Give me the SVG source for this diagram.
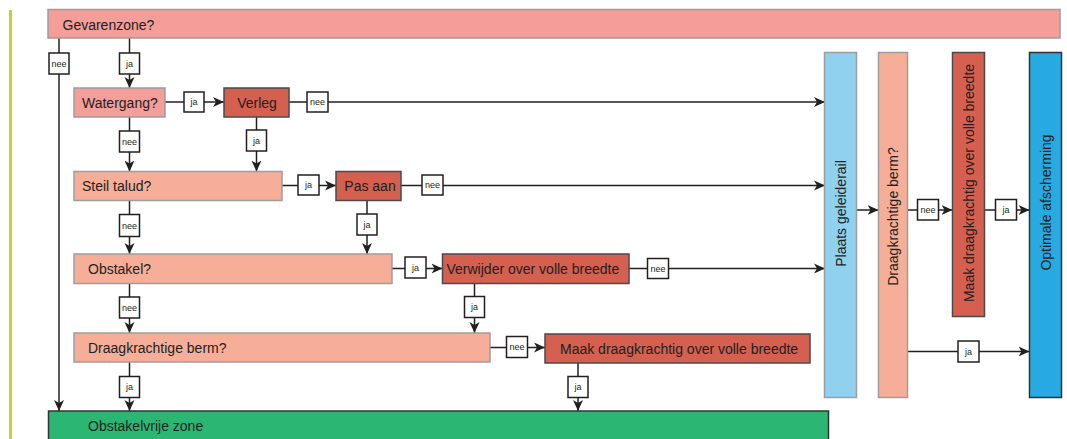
<svg xmlns="http://www.w3.org/2000/svg" width="1067" height="439" viewBox="0 0 1067 439">
<defs>
<marker id="arr" markerUnits="userSpaceOnUse" markerWidth="13" markerHeight="12" refX="11" refY="6" orient="auto">
<path d="M0,1 L11,6 L0,11 L3,6 z" fill="#231f20"/>
</marker>
<style>
.t{font-family:"Liberation Sans",Arial,sans-serif;font-size:14px;fill:#231f20}
.l{font-family:"Liberation Sans",Arial,sans-serif;font-size:9px;fill:#231f20;text-anchor:middle}
.lb{fill:#fff;stroke:#231f20;stroke-width:1.5}
.c{fill:none;stroke:#231f20;stroke-width:1.5}
.ca{fill:none;stroke:#231f20;stroke-width:1.5;marker-end:url(#arr)}
.pink{fill:#f49d99;stroke:#9d9d9d;stroke-width:1.5}
.salm{fill:#f6ae98;stroke:#9d9d9d;stroke-width:1.5}
.red{fill:#d5604f;stroke:#4a4a4a;stroke-width:1.5}
.blue{fill:#8fd1ef;stroke:#9d9d9d;stroke-width:1.5}
.dblue{fill:#27a9e1;stroke:#333;stroke-width:1.5}
.green{fill:#2bb673;stroke:#333;stroke-width:1.5}
.m{text-anchor:middle}
</style>
</defs>
<rect x="9" y="10" width="3" height="429" fill="#c3d32f"/>

<g id="connectors">
<line class="ca" x1="59" y1="38" x2="59" y2="411"/>
<line class="ca" x1="129.5" y1="38" x2="129.5" y2="88"/>
<line class="ca" x1="165" y1="102" x2="224" y2="102"/>
<line class="ca" x1="289" y1="102" x2="825" y2="102"/>
<line class="ca" x1="129.5" y1="117" x2="129.5" y2="171.5"/>
<line class="ca" x1="256.5" y1="117" x2="256.5" y2="171.5"/>
<line class="ca" x1="282" y1="185.5" x2="336" y2="185.5"/>
<line class="ca" x1="401" y1="185.5" x2="825" y2="185.5"/>
<line class="ca" x1="129.5" y1="200.5" x2="129.5" y2="254"/>
<line class="ca" x1="367" y1="200.5" x2="367" y2="254"/>
<line class="ca" x1="392" y1="268.5" x2="442.5" y2="268.5"/>
<line class="ca" x1="629" y1="268.5" x2="825" y2="268.5"/>
<line class="ca" x1="129.5" y1="283.5" x2="129.5" y2="333"/>
<line class="ca" x1="474.5" y1="283.5" x2="474.5" y2="333"/>
<line class="ca" x1="490" y1="347.5" x2="545" y2="347.5"/>
<line class="ca" x1="129.5" y1="362" x2="129.5" y2="411"/>
<line class="ca" x1="578" y1="363" x2="578" y2="411"/>
<line class="ca" x1="856.5" y1="210" x2="878.5" y2="210"/>
<line class="ca" x1="907.5" y1="210" x2="952.5" y2="210"/>
<line class="ca" x1="984.5" y1="210" x2="1029.5" y2="210"/>
<line class="ca" x1="907.5" y1="351.5" x2="1029.5" y2="351.5"/>

<rect class="lb" x="49" y="53" width="20" height="21"/><text class="l" x="59" y="66.5">nee</text>
<rect class="lb" x="119.5" y="53" width="20" height="21"/><text class="l" x="129.5" y="66.5">ja</text>
<rect class="lb" x="184" y="92" width="20" height="20"/><text class="l" x="194" y="105">ja</text>
<rect class="lb" x="307" y="92" width="21" height="20"/><text class="l" x="317.5" y="105">nee</text>
<rect class="lb" x="119.5" y="131" width="20" height="21"/><text class="l" x="129.5" y="144.5">nee</text>
<rect class="lb" x="246.5" y="130" width="20" height="21"/><text class="l" x="256.5" y="143.5">ja</text>
<rect class="lb" x="298" y="175" width="21" height="20"/><text class="l" x="308.5" y="188">ja</text>
<rect class="lb" x="422" y="175" width="21" height="20"/><text class="l" x="432.5" y="188">nee</text>
<rect class="lb" x="119.5" y="214.5" width="20" height="22"/><text class="l" x="129.5" y="228.5">nee</text>
<rect class="lb" x="357" y="214" width="20" height="21"/><text class="l" x="367" y="227.5">ja</text>
<rect class="lb" x="405" y="257" width="21" height="21"/><text class="l" x="415.5" y="270.5">ja</text>
<rect class="lb" x="647.5" y="258.5" width="21" height="20"/><text class="l" x="658" y="271.5">nee</text>
<rect class="lb" x="119.5" y="297" width="20" height="21"/><text class="l" x="129.5" y="310.5">nee</text>
<rect class="lb" x="464.5" y="296.5" width="20" height="21"/><text class="l" x="474.5" y="310">ja</text>
<rect class="lb" x="506.5" y="336.5" width="21" height="21"/><text class="l" x="517" y="350">nee</text>
<rect class="lb" x="119.5" y="376.5" width="20" height="21"/><text class="l" x="129.5" y="390">ja</text>
<rect class="lb" x="568" y="376.5" width="20" height="21"/><text class="l" x="578" y="390">ja</text>
<rect class="lb" x="917.5" y="199.5" width="21" height="20.5"/><text class="l" x="928" y="213">nee</text>
<rect class="lb" x="995.5" y="199.5" width="21" height="20.5"/><text class="l" x="1006" y="213">ja</text>
<rect class="lb" x="958" y="341" width="21" height="21"/><text class="l" x="968.5" y="354.5">ja</text>
</g>

<g id="gevarenzone"><rect class="pink" x="48" y="9.5" width="1012" height="28.5"/><text class="t" x="62.5" y="30">Gevarenzone?</text></g>
<g id="watergang"><rect class="pink" x="74" y="88" width="91" height="29"/><text class="t" x="82" y="108">Watergang?</text></g>
<g id="verleg"><rect class="red" x="224" y="88" width="65" height="29"/><text class="t m" x="257" y="108">Verleg</text></g>
<g id="steil-talud"><rect class="salm" x="74" y="171.5" width="208" height="29"/><text class="t" x="82" y="191">Steil talud?</text></g>
<g id="pas-aan"><rect class="red" x="336" y="171.5" width="65" height="29"/><text class="t m" x="370" y="191">Pas aan</text></g>
<g id="obstakel"><rect class="salm" x="74" y="254" width="318" height="29.5"/><text class="t" x="88" y="273.5">Obstakel?</text></g>
<g id="verwijder"><rect class="red" x="442.5" y="254" width="186.5" height="29.5"/><text class="t" x="446.5" y="273.5">Verwijder over volle breedte</text></g>
<g id="draagkrachtige-berm"><rect class="salm" x="74" y="333" width="416" height="29"/><text class="t" x="88" y="352.5">Draagkrachtige berm?</text></g>
<g id="maak-draagkrachtig"><rect class="red" x="545" y="334" width="265" height="29"/><text class="t" x="560" y="353.5">Maak draagkrachtig over volle breedte</text></g>
<g id="obstakelvrije-zone"><rect class="green" x="48.5" y="411" width="780" height="40"/><text class="t" x="88" y="431">Obstakelvrije zone</text></g>
<g id="plaats-geleiderail"><rect class="blue" x="824.5" y="52.5" width="32" height="345"/><text class="t m" transform="translate(840.5,213.5) rotate(-90)" y="5">Plaats geleiderail</text></g>
<g id="draagkrachtige-berm-2"><rect class="salm" x="878.5" y="52.5" width="29" height="345"/><text class="t m" transform="translate(893,216.5) rotate(-90)" y="5">Draagkrachtige berm?</text></g>
<g id="maak-draagkrachtig-2"><rect class="red" x="952.5" y="52.5" width="32" height="264"/><text class="t m" transform="translate(968.5,183) rotate(-90)" y="5">Maak draagkrachtig over volle breedte</text></g>
<g id="optimale-afscherming"><rect class="dblue" x="1029.5" y="52.5" width="32" height="345"/><text class="t m" transform="translate(1045.5,202.5) rotate(-90)" y="5">Optimale afscherming</text></g>
</svg>
